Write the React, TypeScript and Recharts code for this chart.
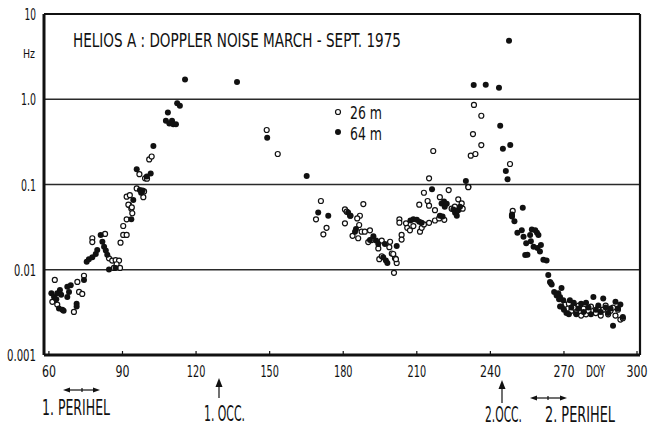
import React from "react";
import {
  ScatterChart, Scatter, XAxis, YAxis, ReferenceLine,
} from "recharts";

// DOY / Hz pairs
const open26: [number, number][] = [
  [62.4, 0.0076], [61.4, 0.0042], [63.4, 0.0039], [70.2, 0.0032], [71.6, 0.0072], [72.3, 0.0055],
  [73.6, 0.0052], [74.3, 0.0085],
  [77.7, 0.0234], [77.7, 0.0211], [82.9, 0.0263], [84.5, 0.0136], [85.8, 0.0128], [87.2, 0.013],
  [88.6, 0.0128], [87.6, 0.0116], [86.5, 0.0105], [89, 0.0105], [89.2, 0.0208], [90.3, 0.0256],
  [91.7, 0.0256], [90.3, 0.0326], [91.7, 0.039], [92.7, 0.0575], [93.6, 0.052], [94, 0.046],
  [91.7, 0.072], [93, 0.075], [92.4, 0.058], [93.8, 0.054],
  [100.9, 0.197], [101.9, 0.213], [96.9, 0.132], [99.2, 0.118], [100, 0.117], [95.8, 0.09],
  [98.8, 0.083], [98.5, 0.071],
  [148.8, 0.436], [153.3, 0.228],
  [170.9, 0.064], [168.9, 0.039], [173.2, 0.031], [171.9, 0.026], [180.7, 0.051], [181.4, 0.048],
  [182.8, 0.043], [188.2, 0.059], [186.8, 0.043], [185.7, 0.04], [180.7, 0.035], [183.8, 0.025],
  [186.1, 0.0234], [186.5, 0.0335], [187.5, 0.028], [188.8, 0.028], [190.9, 0.029], [191.6, 0.0223],
  [190.2, 0.0211], [194.3, 0.0178], [195.7, 0.022], [199.1, 0.0213], [198.8, 0.0184], [199.8, 0.0155],
  [201.1, 0.0136], [201.8, 0.012], [194.7, 0.0133], [195.7, 0.0144], [200.7, 0.0092], [202.9, 0.039],
  [216.7, 0.247], [215, 0.118], [212.9, 0.08], [223, 0.086], [214.4, 0.064], [211, 0.058],
  [231, 0.094], [215, 0.0565], [219.4, 0.071], [217.4, 0.05], [226.9, 0.067], [228.3, 0.06],
  [224.2, 0.052], [228.7, 0.052], [202.9, 0.0357], [205.6, 0.035], [206.1, 0.031], [207.2, 0.029],
  [208.6, 0.0325], [211.3, 0.028], [212, 0.031], [212.9, 0.034], [215, 0.0355], [217.4, 0.0378],
  [219.1, 0.04], [221.2, 0.0385], [203.8, 0.0256], [203.8, 0.0226], [200.4, 0.0153], [201.5, 0.0133],
  [225.5, 0.055], [226.2, 0.048],
  [233.3, 0.857], [236.3, 0.64], [232.9, 0.39], [236.3, 0.29], [232, 0.218], [233.9, 0.228],
  [248, 0.174], [231, 0.093], [249.1, 0.049], [248.8, 0.043],
  [270.5, 0.0039], [272, 0.004], [273, 0.0033], [274, 0.0036], [275, 0.0031], [276, 0.0038],
  [277, 0.0029], [278, 0.0035], [279, 0.003], [280, 0.0033], [281, 0.0037], [283, 0.0031],
  [284, 0.0036], [285, 0.0029], [286, 0.0034], [287, 0.0038], [288, 0.003], [289, 0.0033],
  [290, 0.0036], [291, 0.0029], [292, 0.0034], [293, 0.0026], [294, 0.0027],
];

const filled64: [number, number][] = [
  [61, 0.0053], [62.1, 0.0048], [63.4, 0.0053], [64.5, 0.0058], [65, 0.0051], [64.1, 0.0035],
  [65.5, 0.0034], [67.5, 0.0063], [68.2, 0.0055], [67.5, 0.0048], [68.9, 0.0066], [71.3, 0.004],
  [71.3, 0.0037], [74.3, 0.0076], [63, 0.0045], [66, 0.0033],
  [75.4, 0.0124], [76.3, 0.0133], [77.7, 0.014], [79.1, 0.0153], [79.7, 0.017], [81.1, 0.0256],
  [81.8, 0.0213], [82.5, 0.0186], [83.2, 0.0168], [83.8, 0.015], [84.5, 0.0101], [87.2, 0.0105],
  [93.6, 0.039],
  [115.5, 1.71], [136.7, 1.59], [112.3, 0.896], [113.4, 0.84], [108.5, 0.7], [107.7, 0.56],
  [109.1, 0.52], [110.2, 0.56], [110.7, 0.51], [111.8, 0.51], [102.6, 0.283], [95.8, 0.151],
  [99.9, 0.124], [101.5, 0.135], [97.1, 0.086], [98.2, 0.085], [94.4, 0.066], [97.6, 0.08],
  [149, 0.354], [165.1, 0.126], [169.8, 0.047], [173.9, 0.043], [182, 0.047], [183, 0.043],
  [185.2, 0.03], [184.8, 0.028], [190.9, 0.0223], [192.3, 0.0247], [193.4, 0.022], [194.3, 0.02],
  [197, 0.02], [196.3, 0.014], [197.4, 0.0128], [198, 0.012], [201.8, 0.019],
  [216.2, 0.088], [230, 0.11], [207.4, 0.0378], [208.6, 0.039], [210, 0.0385], [211, 0.0365],
  [212, 0.0355], [219.4, 0.043], [220.5, 0.042], [220.1, 0.06], [221.1, 0.063], [222.2, 0.0595],
  [221.4, 0.055], [224.9, 0.051], [225.6, 0.0465], [226.3, 0.043], [226.9, 0.05], [227.6, 0.055],
  [247.6, 4.86], [233.2, 1.47], [238.1, 1.48], [243.5, 1.36], [244, 0.49], [245.1, 0.263],
  [248.1, 0.29], [246.3, 0.144], [247, 0.115],
  [253.2, 0.0535], [248.8, 0.042], [248.8, 0.0445], [249.8, 0.037], [251, 0.0272], [252.8, 0.029],
  [253.5, 0.0244], [254.6, 0.0204], [254.2, 0.0149], [255.1, 0.015], [256.2, 0.0256], [256.5, 0.0216],
  [256.9, 0.0297], [258.3, 0.029], [259, 0.0272], [259.6, 0.0256], [257.6, 0.0186], [259.2, 0.018],
  [260.6, 0.0195], [260.2, 0.0164], [261.6, 0.0131], [262.9, 0.0128], [263.6, 0.0087], [264.3, 0.0072],
  [265, 0.0067], [264.6, 0.007], [269, 0.0061], [267.7, 0.0053], [268.4, 0.0048], [269.7, 0.0044],
  [272.4, 0.0044], [268.4, 0.0037],
  [266, 0.0055], [267, 0.005], [268, 0.0045], [269, 0.0037], [270, 0.0034], [271, 0.0031],
  [272, 0.003], [273, 0.0036], [274, 0.0041], [275, 0.003], [276, 0.0035], [277, 0.004],
  [278, 0.0032], [279, 0.0041], [280, 0.0036], [281, 0.003], [282, 0.0048], [283, 0.0034],
  [284, 0.0038], [285, 0.0032], [286, 0.0046], [287, 0.0036], [288, 0.0031], [289, 0.0035],
  [290, 0.0022], [291, 0.0042], [292, 0.0035], [293, 0.0039], [294, 0.0028],
];

const xDomain: [number, number] = [58, 301];
const yDomain: [number, number] = [0.001, 10];
const xTicks = [60, 90, 120, 150, 180, 210, 240, 270, 300];
const yTicks = [0.001, 0.01, 0.1, 1, 10];
const yTickLabels: Record<string, string> = {
  "0.001": "0.001", "0.01": "0.01", "0.1": "0.1", "1": "1.0", "10": "10",
};
const gridLines = [0.01, 0.1, 1];

const FONT = "'Liberation Sans Narrow', 'DejaVu Sans Condensed', 'Roboto Condensed', sans-serif";
const INK = "#111";

const W = 649;
const H = 426;
const PLOT_BOTTOM = H - 71;

const toRows = (arr: [number, number][]) => arr.map(([doy, hz]) => ({ doy, hz }));

// rough glyph widths of the narrow lettering, to keep labels as slim as the original
const labelWidth = (s: string) =>
  s.split("").reduce((w, c) => w + (c === "." ? 3.5 : c === "1" ? 4.5 : 7), 0);

const OpenDot = (p: any) => (
  <circle cx={p.cx} cy={p.cy} r={2.5} fill="#fff" stroke={INK} strokeWidth={1.2} />
);
const FilledDot = (p: any) => <circle cx={p.cx} cy={p.cy} r={3} fill={INK} />;

const XTick = ({ x, payload }: any) => {
  const s = String(payload.value);
  return (
    <g>
      <rect x={x - 0.6} y={PLOT_BOTTOM - 4} width={1.2} height={4} fill={INK} />
      <text
        x={x}
        y={377}
        textAnchor="middle"
        fontSize={16}
        fill={INK}
        fontFamily={FONT}
        textLength={labelWidth(s)}
        lengthAdjust="spacingAndGlyphs"
      >
        {s}
      </text>
    </g>
  );
};

const YTick = ({ y, payload }: any) => {
  const s = yTickLabels[String(payload.value)] ?? String(payload.value);
  return (
    <text
      x={36}
      y={y + 6}
      textAnchor="end"
      fontSize={16}
      fill={INK}
      fontFamily={FONT}
      textLength={labelWidth(s)}
      lengthAdjust="spacingAndGlyphs"
    >
      {s}
    </text>
  );
};

const Arrow2 = ({ x1, x2, y, mid }: { x1: number; x2: number; y: number; mid: number }) => (
  <g stroke={INK} fill={INK}>
    <line x1={x1 + 4} x2={x2 - 4} y1={y} y2={y} strokeWidth={1.2} />
    <polygon points={`${x1},${y} ${x1 + 7},${y - 2.5} ${x1 + 7},${y + 2.5}`} strokeWidth={0} />
    <polygon points={`${x2},${y} ${x2 - 7},${y - 2.5} ${x2 - 7},${y + 2.5}`} strokeWidth={0} />
    <line x1={mid} x2={mid} y1={y - 2} y2={y + 2} strokeWidth={1.2} />
  </g>
);

const ArrowUp = ({ x, top, bottom }: { x: number; top: number; bottom: number }) => (
  <g stroke={INK} fill={INK}>
    <polygon points={`${x},${top} ${x - 3.5},${top + 9} ${x + 3.5},${top + 9}`} strokeWidth={0} />
    <line x1={x} x2={x} y1={top + 8} y2={bottom} strokeWidth={1.2} />
  </g>
);

export default function App() {
  return (
    <div style={{ position: "relative", width: W, height: H, background: "#fff" }}>
      <style>{"body{margin:0}"}</style>
      <ScatterChart width={W} height={H} margin={{ top: 14, right: 9, bottom: 0, left: 0 }}>
        <XAxis
          type="number"
          dataKey="doy"
          domain={xDomain}
          ticks={xTicks}
          allowDataOverflow
          axisLine={false}
          tickLine={false}
          height={71}
          tick={<XTick />}
        />
        <YAxis
          type="number"
          dataKey="hz"
          scale="log"
          domain={yDomain}
          ticks={yTicks}
          allowDataOverflow
          width={44}
          axisLine={false}
          tickLine={false}
          tick={<YTick />}
        />
        {gridLines.map((g) => (
          <ReferenceLine key={g} y={g} stroke="#2a2a2a" strokeWidth={1.3} />
        ))}
        {/* plot frame, heavier on the left and bottom like the original */}
        <ReferenceLine y={yDomain[1]} stroke={INK} strokeWidth={2.2} ifOverflow="visible" />
        <ReferenceLine x={xDomain[1]} stroke={INK} strokeWidth={2.2} ifOverflow="visible" />
        <ReferenceLine y={yDomain[0]} stroke={INK} strokeWidth={3} ifOverflow="visible" />
        <ReferenceLine x={xDomain[0]} stroke={INK} strokeWidth={3} ifOverflow="visible" />
        <Scatter name="26 m" data={toRows(open26)} shape={OpenDot} isAnimationActive={false} />
        <Scatter name="64 m" data={toRows(filled64)} shape={FilledDot} isAnimationActive={false} />
      </ScatterChart>

      <svg
        width={W}
        height={H}
        style={{ position: "absolute", left: 0, top: 0, pointerEvents: "none" }}
        fontFamily={FONT}
        fill={INK}
      >
        <text x={73} y={47} fontSize={20} textLength={328} lengthAdjust="spacingAndGlyphs">
          HELIOS A :  DOPPLER NOISE MARCH - SEPT. 1975
        </text>
        <text x={23} y={58} fontSize={13} textLength={12} lengthAdjust="spacingAndGlyphs">Hz</text>

        <circle cx={338} cy={112} r={2.5} fill="#fff" stroke={INK} strokeWidth={1.2} />
        <text x={350} y={119} fontSize={18} textLength={32} lengthAdjust="spacingAndGlyphs">26 m</text>
        <circle cx={338} cy={132} r={3} fill={INK} />
        <text x={350} y={140} fontSize={18} textLength={32} lengthAdjust="spacingAndGlyphs">64 m</text>

        <text x={586} y={377} fontSize={16} textLength={19} lengthAdjust="spacingAndGlyphs">DOY</text>

        <Arrow2 x1={63} x2={100} y={390} mid={82} />
        <text x={42} y={415} fontSize={21} textLength={68} lengthAdjust="spacingAndGlyphs">1. PERIHEL</text>

        <ArrowUp x={219} top={378} bottom={398} />
        <text x={204} y={421} fontSize={21} textLength={41} lengthAdjust="spacingAndGlyphs">1. OCC.</text>

        <ArrowUp x={502} top={380} bottom={403} />
        <text x={485} y={422} fontSize={21} textLength={37} lengthAdjust="spacingAndGlyphs">2.OCC.</text>

        <Arrow2 x1={530} x2={567} y={398} mid={548} />
        <text x={545} y={422} fontSize={21} textLength={70} lengthAdjust="spacingAndGlyphs">2. PERIHEL</text>
      </svg>
    </div>
  );
}
